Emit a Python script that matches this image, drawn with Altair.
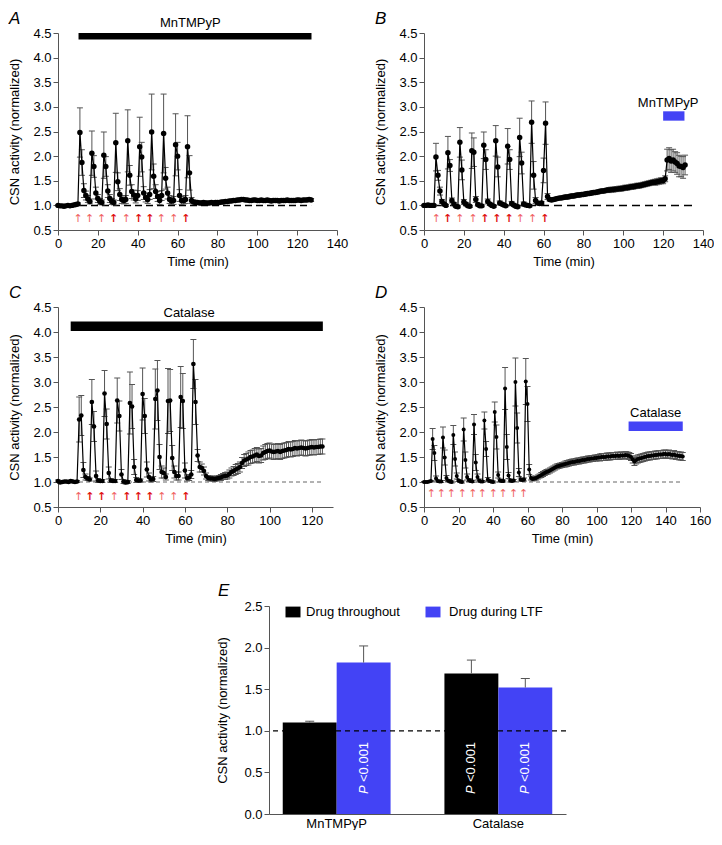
import altair as alt
import pandas as pd

FONT = "Liberation Sans"
BLUE = "#4343F5"
AXC = "#555555"
RED_THIN = "#F06464"
RED_BOLD = "#E01414"

# ---------------- Panel A (MnTMPyP throughout), 1 sample / min ----------------
A_mean = [
    1.00, 0.99, 0.99, 0.98, 0.99, 1.00, 0.99, 1.00, 1.01, 1.02, 1.03,
    2.48, 1.87, 1.30, 1.20, 1.13, 1.08,
    2.06, 1.79, 1.25, 1.14, 1.08, 1.06,
    2.02, 1.79, 1.29, 1.14, 1.08, 1.06,
    2.27, 1.48, 1.22, 1.12, 1.10, 1.12,
    2.31, 1.61, 1.28, 1.21, 1.13, 1.20,
    2.19, 1.98, 1.25, 1.16, 1.12, 1.22,
    2.49, 1.59, 1.28, 1.18, 1.10, 1.20,
    2.46, 1.55, 1.25, 1.12, 1.09, 1.10,
    2.23, 2.00, 1.20, 1.10, 1.10, 1.12,
    2.19, 1.66, 1.10, 1.07, 1.06, 1.06,
    1.05, 1.05, 1.06, 1.05, 1.05, 1.05, 1.06, 1.05, 1.06, 1.06,
    1.06, 1.07, 1.07, 1.08, 1.08, 1.09, 1.09, 1.10, 1.10, 1.11,
    1.11, 1.12, 1.12, 1.11, 1.11, 1.10, 1.10, 1.11, 1.11, 1.10,
    1.10, 1.11, 1.10, 1.10, 1.11, 1.10, 1.09, 1.10, 1.10, 1.10,
    1.09, 1.10, 1.10, 1.10, 1.11, 1.10, 1.10, 1.10, 1.10, 1.11,
    1.11, 1.10, 1.11, 1.11, 1.11, 1.12, 1.11,
]
A_sem = [
    0.01, 0.01, 0.01, 0.01, 0.01, 0.01, 0.01, 0.01, 0.01, 0.02, 0.02,
    0.50, 0.26, 0.14, 0.09, 0.07, 0.05,
    0.45, 0.22, 0.12, 0.08, 0.06, 0.05,
    0.47, 0.20, 0.13, 0.08, 0.06, 0.05,
    0.60, 0.18, 0.12, 0.08, 0.07, 0.08,
    0.63, 0.20, 0.14, 0.10, 0.08, 0.10,
    0.60, 0.30, 0.13, 0.09, 0.08, 0.10,
    0.77, 0.25, 0.14, 0.10, 0.08, 0.10,
    0.80, 0.22, 0.12, 0.08, 0.07, 0.08,
    0.63, 0.28, 0.12, 0.08, 0.07, 0.08,
    0.63, 0.35, 0.06, 0.04, 0.03, 0.03,
    0.03, 0.03, 0.03, 0.03, 0.03, 0.03, 0.03, 0.03, 0.03, 0.03,
    0.03, 0.03, 0.03, 0.03, 0.03, 0.03, 0.03, 0.03, 0.03, 0.03,
    0.03, 0.03, 0.03, 0.03, 0.03, 0.03, 0.03, 0.03, 0.03, 0.03,
    0.03, 0.03, 0.03, 0.03, 0.03, 0.03, 0.03, 0.03, 0.03, 0.03,
    0.03, 0.03, 0.03, 0.03, 0.03, 0.03, 0.03, 0.03, 0.03, 0.03,
    0.03, 0.03, 0.03, 0.03, 0.03, 0.03, 0.03,
]
A_arrow_t = [10.1, 15.9, 21.9, 27.9, 34.3, 40.4, 46.1, 51.9, 58.1, 64.1]
A_arrow_bold = [0, 0, 0, 1, 0, 1, 1, 0, 0, 1]

# ---------------- Panel B (MnTMPyP during LTF) ----------------
B_mean = [
    1.00, 1.00, 1.01, 1.00, 1.00, 1.00,
    1.98, 1.61, 1.29, 1.08, 1.03, 1.00,
    2.07, 1.81, 1.10, 1.03, 0.98, 0.97,
    2.28, 1.72, 1.07, 1.03, 0.99, 0.98,
    2.11, 2.08, 1.12, 1.02, 0.99, 0.99,
    2.22, 1.93, 1.08, 1.03, 1.00, 0.98,
    2.31, 1.78, 1.05, 1.03, 1.01, 0.99,
    2.20, 1.93, 1.04, 1.01, 0.98, 0.97,
    2.38, 1.86, 1.03, 1.01, 1.00, 0.99,
    2.69, 1.61, 1.10, 1.05, 1.04, 1.05,
    1.71, 2.67, 1.18,
    1.12, 1.11, 1.12, 1.13, 1.14, 1.15, 1.15, 1.16, 1.17, 1.17,
    1.18, 1.19, 1.19, 1.20, 1.21, 1.21, 1.22, 1.22, 1.23, 1.24,
    1.24, 1.25, 1.26, 1.26, 1.27, 1.28, 1.29, 1.29, 1.30, 1.31,
    1.31, 1.32, 1.32, 1.33, 1.33, 1.34, 1.34, 1.35, 1.36, 1.36,
    1.37, 1.38, 1.38, 1.39, 1.40, 1.40, 1.41, 1.42, 1.43, 1.44,
    1.45, 1.46, 1.47, 1.47, 1.48, 1.49, 1.50, 1.50, 1.54,
    1.92, 1.95, 1.90, 1.92, 1.88, 1.85, 1.80, 1.79, 1.77, 1.82,
]
B_sem = [
    0.01, 0.01, 0.01, 0.01, 0.01, 0.01,
    0.28, 0.10, 0.08, 0.04, 0.03, 0.02,
    0.33, 0.12, 0.05, 0.03, 0.02, 0.02,
    0.30, 0.20, 0.05, 0.03, 0.02, 0.02,
    0.36, 0.29, 0.06, 0.03, 0.02, 0.02,
    0.27, 0.20, 0.05, 0.03, 0.02, 0.02,
    0.31, 0.20, 0.04, 0.03, 0.02, 0.02,
    0.36, 0.20, 0.04, 0.03, 0.02, 0.02,
    0.39, 0.22, 0.04, 0.03, 0.02, 0.02,
    0.43, 0.28, 0.06, 0.03, 0.03, 0.03,
    0.25, 0.43, 0.06,
    0.03, 0.03, 0.03, 0.03, 0.03, 0.03, 0.03, 0.04, 0.04, 0.04,
    0.04, 0.04, 0.04, 0.04, 0.04, 0.04, 0.04, 0.04, 0.04, 0.04,
    0.04, 0.04, 0.04, 0.04, 0.04, 0.04, 0.04, 0.04, 0.04, 0.04,
    0.05, 0.05, 0.05, 0.05, 0.05, 0.05, 0.05, 0.05, 0.05, 0.05,
    0.05, 0.05, 0.05, 0.05, 0.05, 0.05, 0.05, 0.05, 0.05, 0.05,
    0.05, 0.05, 0.05, 0.06, 0.06, 0.06, 0.06, 0.06, 0.06,
    0.22, 0.22, 0.23, 0.22, 0.21, 0.22, 0.22, 0.21, 0.22, 0.20,
]
B_arrow_t = [6.2, 11.9, 18.0, 24.6, 30.5, 36.5, 42.7, 48.3, 54.5, 60.7]
B_arrow_bold = [0, 1, 0, 0, 1, 1, 1, 0, 0, 1]

# ---------------- Panel C (Catalase throughout) ----------------
C_mean = [
    1.02, 0.99, 1.00, 1.01, 1.01, 1.00, 1.02, 1.01, 1.00, 1.01,
    2.25, 2.33, 1.24, 1.10, 1.07, 1.05,
    2.60, 2.11, 1.12, 1.03, 1.02, 1.02,
    2.77, 2.16, 1.18, 1.03, 1.02, 1.02,
    2.63, 2.32, 1.15, 1.01, 0.99, 1.00,
    2.58, 2.51, 1.30, 1.04, 1.03, 1.03,
    2.76, 2.32, 1.25, 1.10, 1.05, 1.06,
    2.66, 2.83, 1.50, 1.20, 1.18, 1.10,
    2.62, 2.63, 1.48, 1.20, 1.12, 1.12,
    2.70, 2.62, 1.23, 1.08, 1.09, 1.15,
    3.36, 2.60,
    1.53, 1.30, 1.28, 1.22, 1.12, 1.08, 1.07, 1.07, 1.06, 1.07,
    1.08, 1.09, 1.11, 1.12, 1.13, 1.16, 1.20, 1.22, 1.25, 1.27,
    1.30, 1.38, 1.43, 1.45, 1.47, 1.50, 1.51, 1.53, 1.55, 1.52,
    1.53, 1.58, 1.60, 1.62, 1.63, 1.61, 1.60, 1.61, 1.62, 1.60,
    1.62, 1.63, 1.64, 1.66, 1.65, 1.66, 1.68, 1.67, 1.68, 1.69,
    1.68, 1.67, 1.68, 1.69, 1.70, 1.69, 1.70, 1.70, 1.71, 1.71,
]
C_sem = [
    0.02, 0.02, 0.02, 0.02, 0.02, 0.02, 0.02, 0.02, 0.02, 0.02,
    0.45, 0.40, 0.15, 0.06, 0.04, 0.03,
    0.45, 0.30, 0.10, 0.04, 0.03, 0.03,
    0.46, 0.30, 0.12, 0.04, 0.03, 0.03,
    0.45, 0.30, 0.10, 0.04, 0.03, 0.03,
    0.62, 0.44, 0.15, 0.05, 0.03, 0.03,
    0.52, 0.35, 0.15, 0.08, 0.05, 0.05,
    0.60, 0.60, 0.25, 0.12, 0.10, 0.06,
    0.65, 0.62, 0.25, 0.12, 0.08, 0.08,
    0.61, 0.55, 0.15, 0.06, 0.06, 0.08,
    0.49, 0.45,
    0.12, 0.10, 0.08, 0.08, 0.06, 0.05, 0.05, 0.05, 0.05, 0.05,
    0.05, 0.06, 0.06, 0.07, 0.07, 0.08, 0.08, 0.09, 0.10, 0.10,
    0.10, 0.11, 0.12, 0.12, 0.13, 0.13, 0.13, 0.14, 0.14, 0.14,
    0.14, 0.14, 0.15, 0.15, 0.15, 0.15, 0.15, 0.15, 0.15, 0.15,
    0.15, 0.15, 0.15, 0.15, 0.15, 0.15, 0.15, 0.15, 0.15, 0.15,
    0.15, 0.15, 0.15, 0.15, 0.15, 0.15, 0.15, 0.15, 0.15, 0.15,
]
C_arrow_t = [9.7, 15.1, 20.6, 26.6, 32.5, 38.0, 43.4, 49.1, 54.8, 60.5]
C_arrow_bold = [0, 1, 1, 0, 1, 1, 1, 0, 0, 1]

# ---------------- Panel D (Catalase during LTF) ----------------
D_mean = [
    1.00, 1.00, 1.00, 1.01, 1.02,
    1.86, 1.58, 1.07, 1.02, 1.01, 1.01,
    1.89, 1.49, 1.08, 1.03, 1.01, 1.00,
    1.94, 1.46, 1.12, 1.03, 1.01, 1.00,
    2.05, 1.44, 1.10, 1.04, 1.02, 1.01,
    2.15, 1.39, 1.10, 1.03, 1.01, 1.01,
    2.23, 1.66, 1.05, 1.02, 1.01, 1.00,
    2.40, 1.90, 1.14, 1.03, 1.02, 1.02,
    2.87, 1.70, 1.13, 1.03, 1.02, 1.03,
    3.00, 2.08, 1.19, 1.05, 1.04, 1.05,
    3.01, 2.56, 1.25,
    1.08, 1.06, 1.07, 1.08, 1.10, 1.12, 1.14, 1.16, 1.18, 1.20,
    1.21, 1.23, 1.25, 1.27, 1.29, 1.31, 1.32, 1.33, 1.34, 1.35,
    1.36, 1.37, 1.38, 1.39, 1.40, 1.40, 1.41, 1.42, 1.42, 1.43,
    1.44, 1.44, 1.45, 1.46, 1.46, 1.47, 1.47, 1.48, 1.48, 1.49,
    1.49, 1.50, 1.50, 1.50, 1.51, 1.51, 1.51, 1.52, 1.52, 1.52,
    1.53, 1.52, 1.53, 1.53, 1.53, 1.54, 1.53, 1.52, 1.50, 1.45,
    1.41, 1.44, 1.46, 1.47, 1.48, 1.49, 1.50, 1.51, 1.52, 1.52,
    1.53, 1.53, 1.54, 1.54, 1.55, 1.55, 1.55, 1.56, 1.56, 1.55,
    1.56, 1.55, 1.54, 1.55, 1.53, 1.53, 1.52, 1.52, 1.51,
]
D_sem = [
    0.01, 0.01, 0.01, 0.01, 0.01,
    0.21, 0.15, 0.05, 0.02, 0.02, 0.02,
    0.21, 0.15, 0.05, 0.02, 0.02, 0.02,
    0.19, 0.14, 0.06, 0.02, 0.02, 0.02,
    0.23, 0.16, 0.06, 0.03, 0.02, 0.02,
    0.20, 0.16, 0.06, 0.03, 0.02, 0.02,
    0.17, 0.15, 0.04, 0.02, 0.02, 0.02,
    0.20, 0.24, 0.06, 0.03, 0.02, 0.02,
    0.42, 0.25, 0.06, 0.03, 0.02, 0.02,
    0.48, 0.30, 0.08, 0.03, 0.03, 0.03,
    0.46, 0.35, 0.10,
    0.04, 0.04, 0.04, 0.04, 0.04, 0.04, 0.05, 0.05, 0.05, 0.05,
    0.05, 0.05, 0.05, 0.05, 0.05, 0.05, 0.05, 0.05, 0.05, 0.05,
    0.06, 0.06, 0.06, 0.06, 0.06, 0.06, 0.06, 0.06, 0.06, 0.06,
    0.06, 0.06, 0.06, 0.06, 0.06, 0.06, 0.06, 0.06, 0.06, 0.06,
    0.07, 0.07, 0.07, 0.07, 0.07, 0.07, 0.07, 0.07, 0.07, 0.07,
    0.07, 0.07, 0.07, 0.07, 0.07, 0.07, 0.07, 0.07, 0.07, 0.07,
    0.08, 0.08, 0.08, 0.08, 0.08, 0.08, 0.08, 0.08, 0.08, 0.08,
    0.08, 0.08, 0.08, 0.08, 0.08, 0.08, 0.08, 0.08, 0.08, 0.08,
    0.08, 0.08, 0.08, 0.08, 0.08, 0.08, 0.08, 0.08, 0.08,
]
D_arrow_t = [4.2, 10.1, 15.9, 22.2, 28.3, 33.9, 40.2, 45.9, 51.9, 57.8]
D_arrow_bold = [0, 0, 0, 0, 0, 0, 0, 0, 0, 0]

# drug application bars: start, end (min), lower, upper (normalized units)
A_drug = dict(x0=10.3, x1=127.2, y0=4.37, y1=4.50, xt=66.4, yt=4.70, label="MnTMPyP", color="black")
B_drug = dict(x0=120.0, x1=130.7, y0=2.72, y1=2.91, xt=122.5, yt=3.07, label="MnTMPyP", color=BLUE)
C_drug = dict(x0=6.0, x1=125.2, y0=4.02, y1=4.21, xt=62.0, yt=4.39, label="Catalase", color="black")
D_drug = dict(x0=118.6, x1=150.0, y0=2.02, y1=2.21, xt=134.3, yt=2.38, label="Catalase", color=BLUE)

# ---------------- Panel E (summary bars) ----------------
E_drug = ["MnTMPyP", "MnTMPyP", "Catalase", "Catalase"]
E_cond = ["Drug throughout", "Drug during LTF", "Drug throughout", "Drug during LTF"]
E_mean = [1.10, 1.82, 1.69, 1.52]
E_sem = [0.015, 0.20, 0.16, 0.11]
E_sig = ["", "<0.001", "<0.001", "<0.001"]
E_drug_order = ["MnTMPyP", "Catalase"]
E_cond_order = ["Drug throughout", "Drug during LTF"]
E_colors = ["black", BLUE]

Y_TICKS = [0.5, 1.0, 1.5, 2.0, 2.5, 3.0, 3.5, 4.0, 4.5]
YSC = alt.Scale(domain=[0.5, 4.5], nice=False, zero=False)
YAX = alt.Axis(values=Y_TICKS, format=".1f", title="CSN activity (normalized)", titlePadding=11)
LETTER_SIZE = 17


def panel(letter, mean, sem, xmax, xticks, w, h, dash_end, dash_style, drug,
          arrow_t, arrow_bold, arrow_y, dot):
    n = min(len(mean), len(sem))
    df = pd.DataFrame({"t": list(range(n)), "v": mean[:n], "s": sem[:n]})
    df["lo"] = df["v"] - df["s"]
    df["hi"] = df["v"] + df["s"]
    xs = alt.Scale(domain=[0, xmax], nice=False, zero=False)
    xax = alt.Axis(values=xticks, title="Time (min)", labelFlush=False, titlePadding=5)

    def X(f):
        return alt.X(f, type="quantitative", scale=xs, axis=xax)

    def Y(f):
        return alt.Y(f, type="quantitative", scale=YSC, axis=YAX)

    base = alt.Chart(df)
    dash_df = pd.DataFrame({"x0": [0], "x1": [dash_end], "y": [1.0]})
    dcol, dwid, darr = dash_style
    dash = alt.Chart(dash_df).mark_rule(color=dcol, strokeWidth=dwid, strokeDash=darr).encode(
        x=X("x0"), x2="x1", y=Y("y"))
    err = base.mark_rule(color=AXC, strokeWidth=1).encode(x=X("t"), y=Y("lo"), y2="hi")
    capu = base.mark_tick(orient="horizontal", size=6, thickness=1, color=AXC, opacity=1).encode(
        x=X("t"), y=Y("hi"))
    capl = base.mark_tick(orient="horizontal", size=6, thickness=1, color=AXC, opacity=1).encode(
        x=X("t"), y=Y("lo"))
    line = base.mark_line(color="black", strokeWidth=1.2).encode(x=X("t"), y=Y("v"))
    pts = base.mark_circle(color="black", size=dot, opacity=1).encode(x=X("t"), y=Y("v"))

    ddf = pd.DataFrame({k: [v] for k, v in drug.items()})
    rect = alt.Chart(ddf).mark_rect(color=drug["color"]).encode(
        x=X("x0"), x2="x1", y=Y("y0"), y2="y1")
    txt = alt.Chart(ddf).mark_text(fontSize=13, font=FONT, color="black", baseline="middle").encode(
        x=X("xt"), y=Y("yt"), text="label:N")

    adf = pd.DataFrame({"t": arrow_t, "bold": arrow_bold})
    ay = alt.YDatum(arrow_y, type="quantitative", scale=YSC, axis=YAX)
    a_thin = alt.Chart(adf).transform_filter("datum.bold == 0").mark_text(
        text="↑", font="DejaVu Sans", fontSize=11, color=RED_THIN, baseline="middle").encode(
        x=X("t"), y=ay)
    a_bold = alt.Chart(adf).transform_filter("datum.bold == 1").mark_text(
        text="↑", font="DejaVu Sans", fontSize=11, fontWeight="bold", color=RED_BOLD,
        baseline="middle").encode(x=X("t"), y=ay)

    let = alt.Chart(pd.DataFrame({"k": [0]})).mark_text(
        text=letter, font=FONT, fontSize=LETTER_SIZE, fontStyle="italic", align="left",
        baseline="alphabetic", color="black").encode(x=alt.value(-49), y=alt.value(-9))

    return alt.layer(dash, err, capu, capl, line, pts, rect, txt, a_thin, a_bold, let).properties(
        width=w, height=h)


A = panel("A", A_mean, A_sem, 140, [0, 20, 40, 60, 80, 100, 120, 140], 279, 197,
          127, ("black", 1.5, [7, 4]), A_drug, A_arrow_t, A_arrow_bold, 0.73, 30)
B = panel("B", B_mean, B_sem, 140, [0, 20, 40, 60, 80, 100, 120, 140], 279, 197,
          135.4, ("black", 1.5, [8, 5]), B_drug, B_arrow_t, B_arrow_bold, 0.73, 30)
C = panel("C", C_mean, C_sem, 130, [0, 20, 40, 60, 80, 100, 120], 275, 200,
          125, ("#666666", 1, [4, 3]), C_drug, C_arrow_t, C_arrow_bold, 0.71, 22)
D = panel("D", D_mean, D_sem, 160, [0, 20, 40, 60, 80, 100, 120, 140, 160], 276, 200,
          150, ("#666666", 1, [4, 3]), D_drug, D_arrow_t, D_arrow_bold, 0.77, 16)

# ---- E ----
E_df = pd.DataFrame({"drug": E_drug, "cond": E_cond, "v": E_mean, "s": E_sem, "sig": E_sig})
E_df["hi"] = E_df["v"] + E_df["s"]
EYSC = alt.Scale(domain=[0, 2.5], nice=False, zero=False)
EYAX = alt.Axis(values=[0, 0.5, 1.0, 1.5, 2.0, 2.5], format=".1f",
                title="CSN activity (normalized)", titlePadding=14)
EX = alt.X("drug:N", sort=E_drug_order, scale=alt.Scale(paddingInner=0.333, paddingOuter=0.085),
           axis=alt.Axis(title=None, labelAngle=0, ticks=False, labelPadding=3))
EXO = alt.XOffset("cond:N", sort=E_cond_order)
ECOL = alt.Color("cond:N", sort=E_cond_order,
                 scale=alt.Scale(domain=E_cond_order, range=E_colors), legend=None)


def EY(f):
    return alt.Y(f, type="quantitative", scale=EYSC, axis=EYAX)


ebars = alt.Chart(E_df).mark_bar(opacity=1).encode(x=EX, xOffset=EXO, y=EY("v"), color=ECOL)
eerr = alt.Chart(E_df).mark_rule(color=AXC, strokeWidth=1).encode(x=EX, xOffset=EXO, y=EY("v"), y2="hi")
ecap = alt.Chart(E_df).mark_tick(orient="horizontal", size=9, thickness=1, color=AXC, opacity=1).encode(
    x=EX, xOffset=EXO, y=EY("hi"))
edash = alt.Chart(pd.DataFrame({"y": [1.0]})).mark_rule(
    color="black", strokeWidth=1.2, strokeDash=[5, 4]).encode(y=EY("y"))
py = alt.YDatum(0.24, type="quantitative", scale=EYSC, axis=EYAX)
ep = alt.Chart(E_df).transform_filter("datum.sig != ''").mark_text(
    text="P", angle=270, align="left", baseline="middle", color="white", font=FONT,
    fontSize=13, fontStyle="italic").encode(x=EX, xOffset=EXO, y=py)
ev = alt.Chart(E_df).transform_filter("datum.sig != ''").mark_text(
    angle=270, align="left", baseline="middle", color="white", font=FONT,
    fontSize=13, dx=12).encode(x=EX, xOffset=EXO, y=py, text="sig:N")
elet = alt.Chart(pd.DataFrame({"k": [0]})).mark_text(
    text="E", font=FONT, fontSize=LETTER_SIZE, fontStyle="italic", align="left",
    baseline="alphabetic", color="black").encode(x=alt.value(-51), y=alt.value(-10))

# legend drawn inside the plot area (top-left), as in the figure
leg_df = pd.DataFrame({"cond": E_cond_order, "col": E_colors})
LEG_SHAPE = "M-1,-0.72H1V0.72H-1Z"
leg_layers = []
for i, (sx, tx) in enumerate([(24, 37), (164, 180)]):
    one = alt.Chart(leg_df).transform_filter(f"datum.cond == '{E_cond_order[i]}'")
    leg_layers.append(one.mark_point(shape=LEG_SHAPE, filled=True, size=225, opacity=1,
                                     strokeWidth=0, color=E_colors[i]).encode(
        x=alt.value(sx), y=alt.value(6)))
    leg_layers.append(one.mark_text(align="left", baseline="middle", font=FONT, fontSize=13,
                                    color="black").encode(
        x=alt.value(tx), y=alt.value(6), text="cond:N"))

E = alt.layer(ebars, edash, eerr, ecap, ep, ev, elet, *leg_layers).properties(width=297, height=208)

spacer = alt.Chart(pd.DataFrame({"s": [0]})).mark_point(opacity=0).encode(
    x=alt.value(0), y=alt.value(0)).properties(width=150, height=1)

row1 = alt.hconcat(A, B, spacing=26)
row2 = alt.hconcat(C, D, spacing=41)
row3 = alt.hconcat(spacer, E, spacing=8)

chart = alt.vconcat(alt.vconcat(row1, row2, spacing=16), row3, spacing=37).properties(
    padding={"left": 0, "top": 2, "right": 0, "bottom": 0}
).configure(font=FONT).configure_view(stroke=None).configure_axis(
    domainColor=AXC, tickColor=AXC, labelColor="black", titleColor="black",
    labelFont=FONT, titleFont=FONT, labelFontSize=13, titleFontSize=13,
    titleFontWeight="normal", tickSize=5, grid=False, labelPadding=2,
    domainWidth=1, tickWidth=1)

chart.save("out.html", embed_options={"renderer": "svg", "actions": False})
